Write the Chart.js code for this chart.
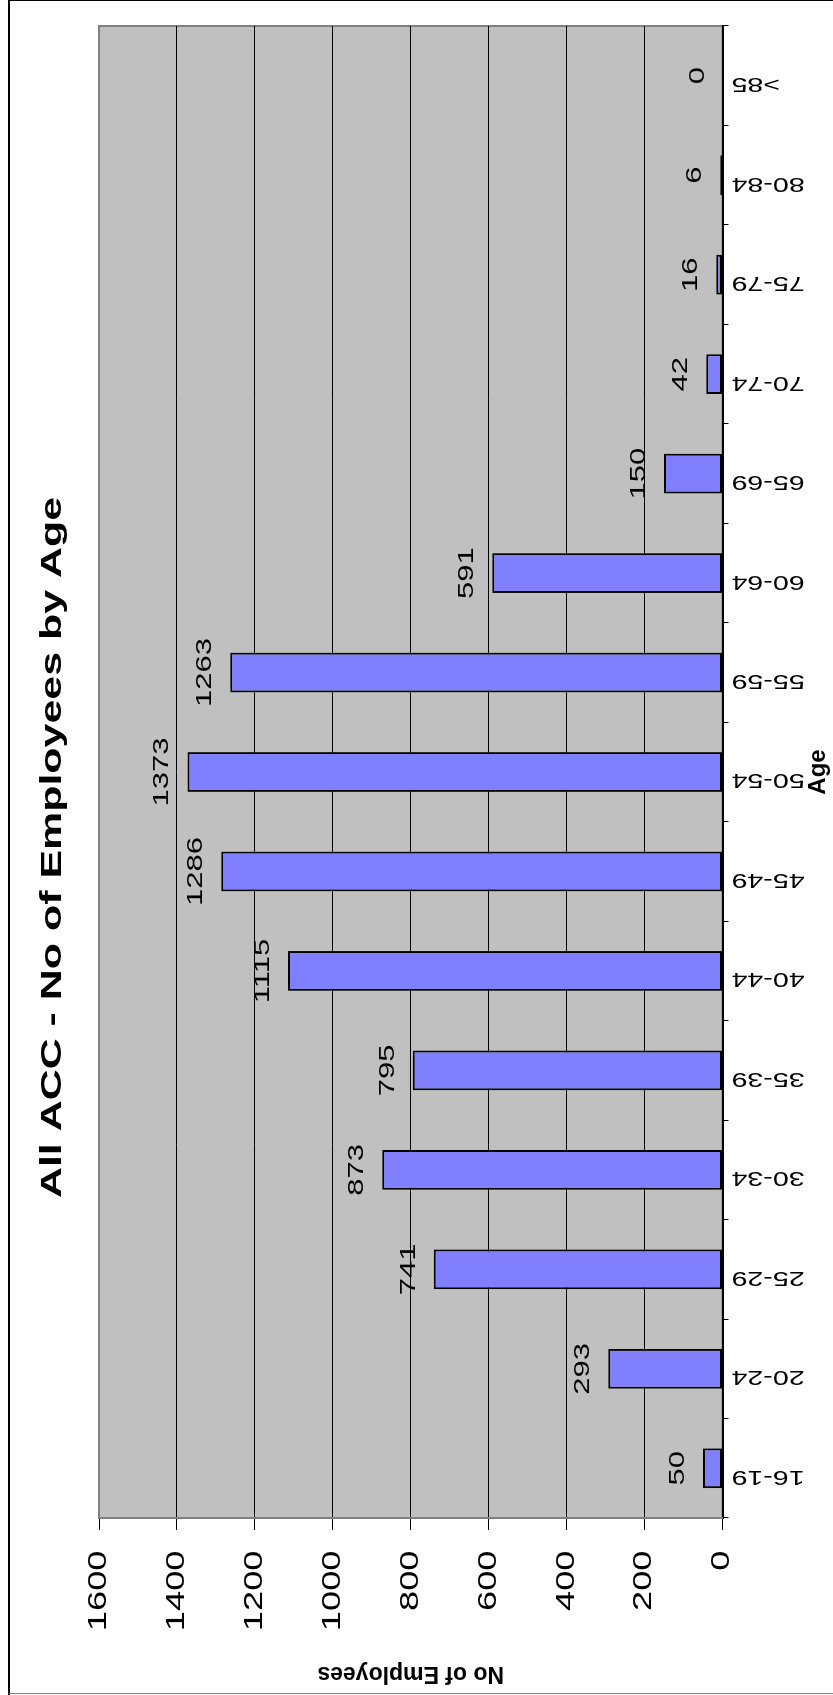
<!DOCTYPE html>
<html>
<head>
<meta charset="utf-8">
<script src="https://cdn.jsdelivr.net/npm/chart.js@4.4.0/dist/chart.umd.min.js"></script>
<style>
html,body{margin:0;padding:0;overflow:hidden;background:#fff;width:833px;height:1695px;}
#wrap{position:absolute;left:0;top:0;width:1695px;height:833px;transform-origin:0 0;transform:translate(0px,1695px) rotate(-90deg);}
canvas{display:block;}
</style>
</head>
<body>
<div id="wrap"><canvas id="c" width="1695" height="833"></canvas></div>
<script>
// ---- data ----
const chartTitle = 'All ACC - No of Employees by Age';
const ageGroups = ['16-19','20-24','25-29','30-34','35-39','40-44','45-49','50-54','55-59','60-64','65-69','70-74','75-79','80-84','>85'];
const employees = [50, 293, 741, 873, 795, 1115, 1286, 1373, 1263, 591, 150, 42, 16, 6, 0];
const valueTicks = [0, 200, 400, 600, 800, 1000, 1200, 1400, 1600];
const xAxisTitle = 'Age';
const yAxisTitle = 'No of Employees';

// ---- style ----
const FONT = '"Liberation Sans", Arial, Helvetica, sans-serif';
const TITLE_SX = 1.48, TICK_SX = 1.45, CAT_SX = 1.43, LABEL_SX = 1.41;

function withStretch(ctx, sx, fn) {
  const proto = CanvasRenderingContext2D.prototype.fillText;
  ctx.fillText = function (t, x, y) {
    this.save();
    this.translate(x, y);
    this.scale(sx, 1);
    proto.call(this, t, 0, 0);
    this.restore();
  };
  try { return fn(); } finally { delete ctx.fillText; }
}

const decorPlugin = {
  id: 'decor',
  beforeDraw(chart) {
    const { ctx, chartArea: a, width, height } = chart;
    ctx.save();
    ctx.fillStyle = '#fff';
    ctx.fillRect(0, 0, width, height);
    ctx.fillStyle = '#C0C0C0';
    ctx.fillRect(a.left, a.top, a.right - a.left, a.bottom - a.top);
    ctx.strokeStyle = '#808080';
    ctx.lineWidth = 2;
    ctx.strokeRect(a.left, a.top, a.right - a.left, a.bottom - a.top);
    // outer frame
    ctx.strokeStyle = '#000';
    ctx.lineWidth = 2;
    ctx.beginPath(); ctx.moveTo(0, 9); ctx.lineTo(width, 9); ctx.stroke();
    ctx.lineWidth = 1;
    ctx.beginPath(); ctx.moveTo(width - 0.5, 9); ctx.lineTo(width - 0.5, height); ctx.stroke();
    ctx.strokeStyle = '#808080';
    ctx.beginPath(); ctx.moveTo(1.5, 9); ctx.lineTo(1.5, height); ctx.stroke();
    ctx.restore();

    const wrap = (obj, name, sx, dx) => {
      if (!obj || obj['_st_' + name]) return;
      const orig = obj[name];
      obj[name] = function (...args) {
        const c = chart.ctx;
        c.save();
        c.translate(dx || 0, 0);
        try { return withStretch(c, sx, () => orig.apply(this, args)); }
        finally { c.restore(); }
      };
      obj['_st_' + name] = true;
    };
    wrap(chart.scales.x, 'drawLabels', CAT_SX, 0);
    wrap(chart.scales.y, 'drawLabels', TICK_SX, 0);
    wrap(chart.titleBlock, 'draw', TITLE_SX, 13);
  },
  afterDatasetsDraw(chart) {
    const { ctx } = chart;
    const meta = chart.getDatasetMeta(0);
    const vals = chart.data.datasets[0].data;
    ctx.save();
    ctx.font = '22px ' + FONT;
    ctx.fillStyle = '#000';
    ctx.textAlign = 'center';
    ctx.textBaseline = 'alphabetic';
    meta.data.forEach((bar, i) => {
      withStretch(ctx, LABEL_SX, () => ctx.fillText(String(vals[i]), bar.x, bar.y - 19));
    });
    ctx.restore();
  }
};

new Chart(document.getElementById('c'), {
  type: 'bar',
  data: {
    labels: ageGroups,
    datasets: [{
      data: employees,
      backgroundColor: '#8080FF',
      borderColor: '#000',
      borderWidth: 2,
      borderSkipped: false,
      barPercentage: 0.4,
      categoryPercentage: 1.0
    }]
  },
  options: {
    responsive: false,
    devicePixelRatio: 1,
    animation: false,
    layout: { padding: { top: 0, right: 26, bottom: 0, left: 0 } },
    plugins: {
      legend: { display: false },
      tooltip: { enabled: false },
      title: {
        display: true,
        text: chartTitle,
        color: '#000',
        font: { family: FONT, size: 29, weight: 'bold', lineHeight: 1.2 },
        padding: { top: 35.6, bottom: 28.6 }
      }
    },
    scales: {
      x: {
        afterFit(scale) { scale.height = 110.5; },
        grid: { display: true, drawOnChartArea: false, drawTicks: true, tickLength: 6, color: '#000', tickColor: '#000' },
        border: { display: true, color: '#000', width: 2 },
        ticks: {
          autoSkip: false, minRotation: 90, maxRotation: 90, padding: 3, labelOffset: -8,
          color: '#000', font: { family: FONT, size: 20 }
        },
        title: {
          display: true, text: xAxisTitle, color: '#000',
          font: { family: FONT, size: 24, weight: 'bold', lineHeight: 1.2 },
          padding: { top: 0, bottom: 0 }
        }
      },
      y: {
        min: valueTicks[0],
        max: valueTicks[valueTicks.length - 1],
        afterBuildTicks(scale) { scale.ticks = valueTicks.map(v => ({ value: v })); },
        afterFit(scale) { scale.width = 177; },
        grid: {
          color: (c) => (c.tick && c.tick.value === valueTicks[valueTicks.length - 1]) ? '#808080' : '#000',
          lineWidth: 1, tickLength: 12, tickColor: '#000'
        },
        border: { display: true, color: '#808080', width: 2 },
        ticks: {
          padding: 20.5, color: '#000', font: { family: FONT, size: 25 },
          callback: (v) => String(v)
        },
        title: {
          display: true, text: yAxisTitle, color: '#000',
          font: { family: FONT, size: 23, weight: 'bold', lineHeight: 1.2 },
          padding: { top: 8.2, bottom: 0 }
        }
      }
    }
  },
  plugins: [decorPlugin]
});
</script>
</body>
</html>
